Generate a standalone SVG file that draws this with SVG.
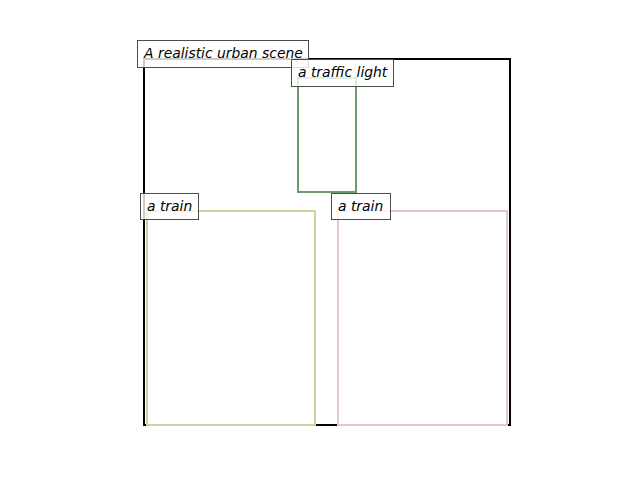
<svg xmlns="http://www.w3.org/2000/svg" width="640" height="480" viewBox="0 0 640 480">
<style>
.lbl{fill:#ffffff;fill-opacity:0.8;stroke:#4d4d4d;stroke-width:1}
text{font-family:"DejaVu Sans",sans-serif;font-style:oblique;font-size:13.9px;fill:#000}
.box{fill:none;stroke-width:2}
</style>
<rect width="640" height="480" fill="#ffffff"/>
<g id="scene"><rect class="box" x="144" y="59" width="366" height="366" stroke="#000000"/></g>
<g id="traffic-light"><rect class="box" x="298" y="78" width="58" height="114" stroke="#6b9b6b"/></g>
<g id="train-1"><rect class="box" x="147" y="211" width="168" height="214" stroke="#c9d39d"/></g>
<g id="train-2"><rect class="box" x="338" y="211" width="169" height="214" stroke="#eac6d3"/></g>
<g id="connectors"></g>
<g id="labels">
<g id="label-scene"><rect class="lbl" x="137.5" y="40.5" width="171" height="27"/><text x="144" y="58">A realistic urban scene</text></g>
<g id="label-traffic"><rect class="lbl" x="291.5" y="59.5" width="102" height="27"/><text x="298" y="77">a traffic light</text></g>
<g id="label-train1"><rect class="lbl" x="140.5" y="193.5" width="58" height="26"/><text x="147" y="211">a train</text></g>
<g id="label-train2"><rect class="lbl" x="331.5" y="193.5" width="59" height="26"/><text x="338" y="211">a train</text></g>
</g>
</svg>
